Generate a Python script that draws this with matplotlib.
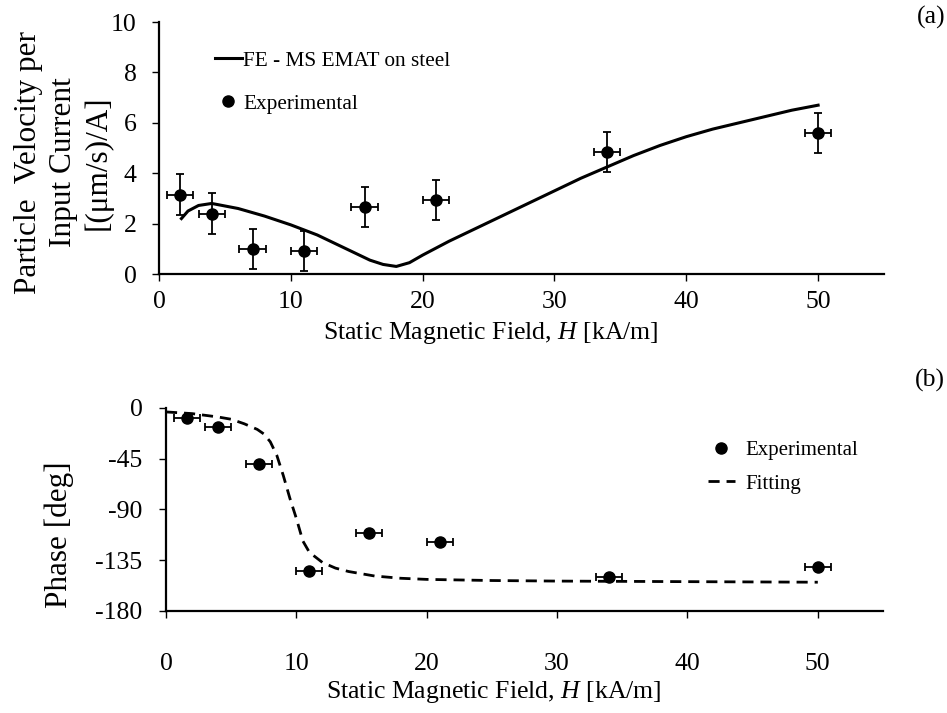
import numpy as np
import matplotlib.pyplot as plt

plt.rcParams['font.family'] = ['Liberation Serif', 'DejaVu Serif']
plt.rcParams['mathtext.fontset'] = 'custom'
plt.rcParams['mathtext.it'] = 'Liberation Serif:italic'
plt.rcParams['mathtext.rm'] = 'Liberation Serif'
plt.rcParams['axes.unicode_minus'] = False

# experimental points
h_exp = [1.6, 4.0, 7.1, 11.0, 15.6, 21.0, 34.0, 50.0]
h_err = [1.0] * 8
vel_exp = [3.15, 2.4, 1.0, 0.9, 2.65, 2.95, 4.85, 5.6]
vel_err = [0.8] * 8
phase_exp = [-9, -17, -50, -144.5, -111, -119, -150, -141]

# FE simulation curve
h_fe = [1.7, 2.2, 3.0, 4.0, 6.0, 8.0, 10.0, 12.0, 14.0, 15.0, 16.0, 17.0, 18.0,
        19.0, 20.0, 22.0, 24.0, 26.0, 28.0, 30.0, 32.0, 34.0, 36.0, 38.0, 40.0,
        42.0, 44.0, 46.0, 48.0, 50.0]
vel_fe = [2.2, 2.5, 2.72, 2.8, 2.6, 2.3, 1.95, 1.55, 1.05, 0.8, 0.55, 0.38, 0.3,
          0.45, 0.75, 1.3, 1.8, 2.3, 2.8, 3.3, 3.8, 4.25, 4.7, 5.1, 5.45,
          5.75, 6.0, 6.25, 6.5, 6.7]

# phase fitting curve
h_fit = [0, 2, 4, 5, 6, 7, 7.5, 8, 8.5, 9, 9.5, 10, 10.5, 11, 12, 13, 14, 16,
         18, 20, 25, 30, 40, 50]
phase_fit = [-3.5, -5, -8, -10, -14, -19, -23, -30, -42, -60, -80, -98, -118,
             -128, -137, -142, -145, -149, -151, -152, -153, -153.5, -154, -154.5]

fig = plt.figure(figsize=(9.47, 7.13), dpi=100)
ax1 = fig.add_axes([0.1679, 0.6157, 0.7656, 0.3534])
ax2 = fig.add_axes([0.1753, 0.1431, 0.7571, 0.2847])

for ax in (ax1, ax2):
    for s in ('top', 'right'):
        ax.spines[s].set_visible(False)
    for s in ('left', 'bottom'):
        ax.spines[s].set_linewidth(1.6)
    ax.tick_params(direction='out', length=5, width=1, labelsize=18.5)
    ax.set_xlim(0, 55)
    ax.set_xticks([0, 10, 20, 30, 40, 50])

ax1.tick_params(axis='x', pad=7)
ax1.tick_params(axis='y', pad=11)
ax2.tick_params(axis='x', pad=25)
ax2.tick_params(axis='y', pad=12)

# (a) particle velocity
ax1.plot(h_fe, vel_fe, color='black', lw=2.2, label='FE - MS EMAT on steel')
ax1.errorbar(h_exp, vel_exp, xerr=h_err, yerr=vel_err, fmt='o', color='black',
             ms=8, elinewidth=1.3, capsize=3, capthick=1.3, label='Experimental')
ax1.set_ylim(0, 10)
ax1.set_yticks([0, 2, 4, 6, 8, 10])
ax1.set_xlabel('Static Magnetic Field, $H$ [kA/m]', fontsize=18.5, labelpad=5)
fig.text(0.067, 0.772, 'Particle  Velocity per\nInput Current\n[(\u03bcm/s)/A]',
         fontsize=22.5, rotation=90, ha='center', va='center',
         multialignment='center', linespacing=1.25)
h, l = ax1.get_legend_handles_labels()
ax1.legend([h[0], h[1][0]], l, loc='upper left', bbox_to_anchor=(0.065, 0.92),
           frameon=False, fontsize=15.3, handlelength=1.3, handletextpad=0.05,
           labelspacing=1.1, borderaxespad=0)

# (b) phase
ax2.errorbar(h_exp, phase_exp, xerr=h_err, fmt='o', color='black', ms=8,
             elinewidth=1.3, capsize=3, capthick=1.3, label='Experimental')
ax2.plot(h_fit, phase_fit, color='black', lw=2, ls=(0, (4, 2.5)), label='Fitting')
ax2.set_ylim(-180, 0)
ax2.set_yticks([0, -45, -90, -135, -180])
ax2.set_xlabel('Static Magnetic Field, $H$ [kA/m]', fontsize=18.5, labelpad=3)
fig.text(0.0623, 0.2497, 'Phase [deg]', fontsize=22.5, rotation=90,
         ha='center', va='center')
h, l = ax2.get_legend_handles_labels()
ax2.legend([h[1][0], h[0]], [l[1], l[0]], loc='upper left',
           bbox_to_anchor=(0.744, 0.879), frameon=False, fontsize=15,
           handlelength=1.3, handletextpad=0.5, labelspacing=0.65, borderaxespad=0)

# x labels sit a bit left of the axes centre in the original
for ax, x0 in ((ax1, 0.458), (ax2, 0.457)):
    ax.xaxis.label.set_x(x0)

fig.text(0.998, 0.976, '(a)', fontsize=18.5, ha='right', va='center')
fig.text(0.998, 0.467, '(b)', fontsize=18.5, ha='right', va='center')

fig.savefig('out.png', dpi=100)
